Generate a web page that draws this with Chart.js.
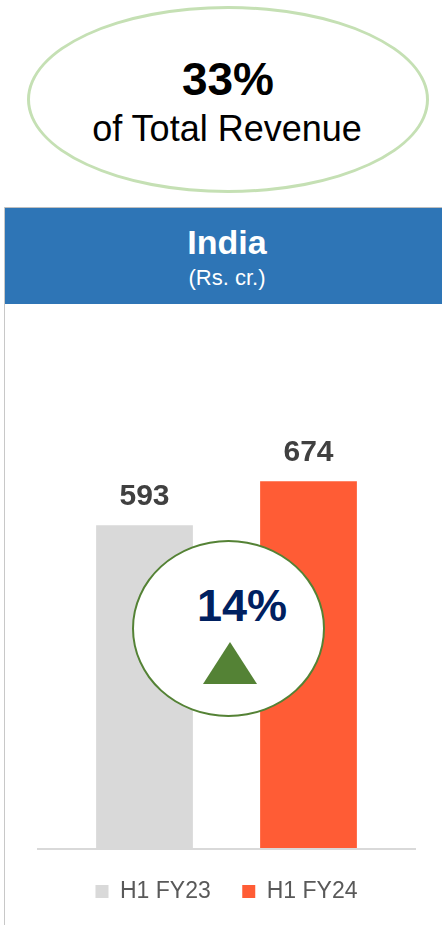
<!DOCTYPE html>
<html>
<head>
<meta charset="utf-8">
<script src="https://cdn.jsdelivr.net/npm/chart.js@4/dist/chart.umd.min.js"></script>
<style>
  html, body { margin: 0; padding: 0; background: #fff; }
  body { width: 442px; height: 925px; position: relative; overflow: hidden; font-family: "Liberation Sans", Arial, sans-serif; }
  #oval { position: absolute; left: 27px; top: 6px; width: 402px; height: 187px; box-sizing: border-box; border: 3px solid #c5e0b4; border-radius: 50%; }
  #share { position: absolute; left: 0; width: 456px; text-align: center; top: 56px; font-size: 46px; font-weight: bold; color: #000; line-height: 1; }
  #shareSub { position: absolute; left: 0; width: 454px; text-align: center; top: 111px; font-size: 36px; color: #000; line-height: 1; }
  #leftLine { position: absolute; left: 4px; top: 207px; width: 1px; height: 718px; background: #c8c8c8; }
  #header { position: absolute; left: 5px; top: 207px; width: 437px; height: 97px; background: #2e75b6; border-top: 1px solid #bfbfbf; box-sizing: border-box; }
  #title { position: absolute; left: 0; width: 454px; text-align: center; top: 225px; font-size: 34px; font-weight: bold; color: #fff; line-height: 1; }
  #unit { position: absolute; left: 0; width: 454px; text-align: center; top: 267px; font-size: 22px; color: #fff; line-height: 1; }
  #chartBox { position: absolute; left: 5px; top: 305px; width: 437px; height: 620px; }
  #growth { position: absolute; left: 132px; top: 540px; width: 193px; height: 177px; box-sizing: border-box; border: 2px solid #548235; border-radius: 50%; background: #fff; }
  #growthText { position: absolute; left: 197px; width: 90px; text-align: center; top: 583px; font-size: 45px; font-weight: bold; color: #002060; line-height: 1; }
  #tri { position: absolute; left: 203px; top: 642px; width: 0; height: 0; border-left: 27.5px solid transparent; border-right: 27.5px solid transparent; border-bottom: 42px solid #548235; }
</style>
</head>
<body>
<div id="oval"></div>
<div id="share">33%</div>
<div id="shareSub">of Total Revenue</div>
<div id="leftLine"></div>
<div id="header"></div>
<div id="title">India</div>
<div id="unit">(Rs. cr.)</div>
<div id="chartBox"><canvas id="c" width="437" height="620"></canvas></div>
<div id="growth"></div>
<div id="growthText">14%</div>
<div id="tri"></div>
<script>
const categories = ["H1 FY23", "H1 FY24"];
const revenueValues = [593, 674];
const barColors = ["#d9d9d9", "#ff5c35"];

const labelPlugin = {
  id: 'valueLabels',
  afterDatasetsDraw(chart) {
    const ctx = chart.ctx;
    const meta = chart.getDatasetMeta(0);
    const area = chart.chartArea;
    const y0 = chart.scales.y.getPixelForValue(0);
    ctx.save();
    ctx.strokeStyle = '#d9d9d9';
    ctx.lineWidth = 2;
    ctx.beginPath();
    ctx.moveTo(area.left - 25.5, y0 + 0.5);
    ctx.lineTo(area.right + 25.5, y0 + 0.5);
    ctx.stroke();
    ctx.fillStyle = '#404040';
    ctx.font = 'bold 30px "Liberation Sans", Arial, sans-serif';
    ctx.textAlign = 'center';
    ctx.textBaseline = 'alphabetic';
    meta.data.forEach((bar, i) => {
      ctx.fillText(String(revenueValues[i]), bar.x, bar.y - 20);
    });
    ctx.restore();
  }
};

new Chart(document.getElementById('c'), {
  type: 'bar',
  data: {
    labels: categories,
    datasets: [{
      label: 'India',
      data: revenueValues,
      backgroundColor: barColors,
      borderWidth: 0,
      barPercentage: 0.59,
      categoryPercentage: 1.0
    }]
  },
  options: {
    responsive: false,
    animation: false,
    layout: { padding: { left: 57.5, right: 51.5, top: 53, bottom: 12 } },
    scales: {
      x: { display: false },
      y: { display: false, min: 0, max: 900 }
    },
    plugins: {
      tooltip: { enabled: false },
      legend: {
        position: 'bottom',
        labels: {
          padding: 31.5,
          boxWidth: 13,
          boxHeight: 13,
          color: '#595959',
          font: { size: 23, family: '"Liberation Sans", Arial, sans-serif' },
          generateLabels(chart) {
            return chart.data.labels.map((l, i) => ({
              text: l,
              fillStyle: barColors[i],
              strokeStyle: barColors[i],
              lineWidth: 0,
              hidden: false,
              index: i,
              fontColor: '#595959'
            }));
          }
        }
      }
    }
  },
  plugins: [labelPlugin]
});
</script>
</body>
</html>
